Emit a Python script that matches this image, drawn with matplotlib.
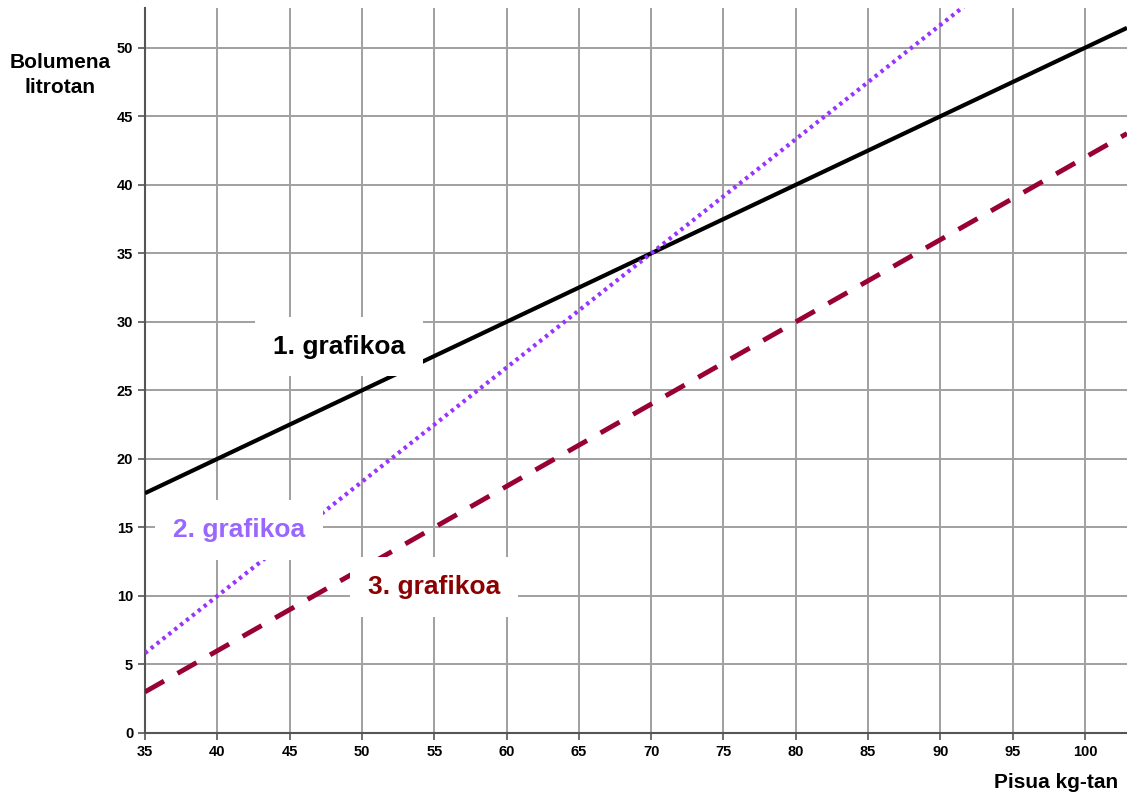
import matplotlib
matplotlib.use("Agg")
import matplotlib.pyplot as plt
import numpy as np

plt.rcParams['font.family'] = ['Liberation Sans', 'DejaVu Sans']

x_range = [35, 102.9]
y_range = [0, 52.9]
x_ticks = [35, 40, 45, 50, 55, 60, 65, 70, 75, 80, 85, 90, 95, 100]
y_ticks = [0, 5, 10, 15, 20, 25, 30, 35, 40, 45, 50]

# line endpoints (weight kg, volume L)
g1_x = [35, 102.9]; g1_y = [17.5, 51.45]
g2_x = [35, 92.0]; g2_y = [5.83, 53.33]
g3_x = [35, 102.9]; g3_y = [3.0, 43.74]

labels = ["1. grafikoa", "2. grafikoa", "3. grafikoa"]

fig = plt.figure(figsize=(11.27, 7.96), dpi=100)
ax = fig.add_axes([145/1127, 63/796, (1127-145)/1127, (733-8)/796])
ax.set_xlim(*x_range)
ax.set_ylim(*y_range)
ax.set_xticks(x_ticks)
ax.set_yticks(y_ticks)
ax.grid(True, color='#a0a0a0', linewidth=1.4)
ax.set_axisbelow(True)
for s in ['top', 'right']:
    ax.spines[s].set_visible(False)
for s in ['left', 'bottom']:
    ax.spines[s].set_color('#555555')
    ax.spines[s].set_linewidth(1.5)
ax.tick_params(length=5, width=1.2, color='#555555', labelsize=10.5)
for t in ax.get_xticklabels() + ax.get_yticklabels():
    t.set_fontweight('bold')

ax.plot(g1_x, g1_y, color='black', lw=3, solid_capstyle='butt', zorder=3)
ax.plot(g2_x, g2_y, color='#9933ff', lw=3, linestyle=(0, (0.8, 1.0)), zorder=3)
ax.plot(g3_x, g3_y, color='#990033', lw=3.5, linestyle=(0, (4.5, 3.2)), zorder=3)

box = dict(facecolor='white', edgecolor='none', pad=13)
ax.text(48.4, 28.2, labels[0], color='black', fontsize=19, fontweight='bold',
        ha='center', va='center', bbox=box, zorder=5)
ax.text(41.5, 14.8, labels[1], color='#9966ff', fontsize=19, fontweight='bold',
        ha='center', va='center', bbox=box, zorder=5)
ax.text(55.0, 10.66, labels[2], color='#8b0000', fontsize=19, fontweight='bold',
        ha='center', va='center', bbox=box, zorder=5)

fig.text(60/1127, 1 - 75/796, "Bolumena\nlitrotan", ha='center', va='center',
         fontsize=15, fontweight='bold', linespacing=1.35)
fig.text(1118/1127, 1 - 783/796, "Pisua kg-tan", ha='right', va='center',
         fontsize=15, fontweight='bold')

fig.savefig("out.png", dpi=100)
